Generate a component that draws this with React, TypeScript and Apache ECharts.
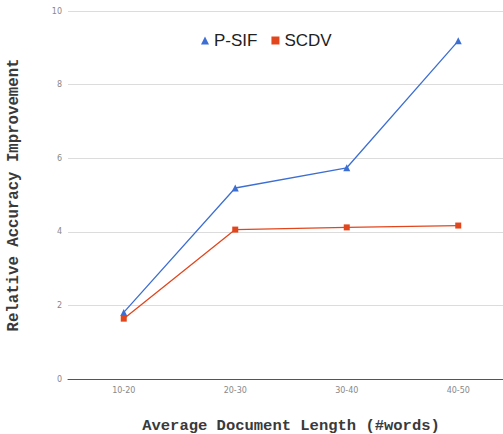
import React, { useEffect, useRef } from "react";
import * as echarts from "echarts";

const categories = ["10-20", "20-30", "30-40", "40-50"];
const psif = [1.81, 5.19, 5.74, 9.19];
const scdv = [1.64, 4.06, 4.12, 4.17];
const seriesNames = ["P-SIF", "SCDV"];

export default function App() {
  const ref = useRef<HTMLDivElement>(null);
  useEffect(() => {
    if (!ref.current) return;
    const chart = echarts.init(ref.current, null, { renderer: "svg" });
    chart.setOption({
      animation: false,
      backgroundColor: "#fff",
      grid: { left: 68, right: -11, top: 11, bottom: 55, containLabel: false, outerBoundsMode: "none" },
      legend: {
        top: 27,
        left: 196,
        itemWidth: 8,
        itemHeight: 8,
        itemGap: 14,
        textStyle: { fontSize: 17, fontFamily: "Liberation Sans, Arial, sans-serif", color: "#222" },
        data: [
          { name: seriesNames[0], icon: "triangle" },
          { name: seriesNames[1], icon: "rect" },
        ],
      },
      xAxis: {
        type: "category",
        data: categories,
        boundaryGap: true,
        axisLine: { lineStyle: { color: "#555", width: 1 } },
        axisTick: { show: false },
        axisLabel: { fontSize: 8, color: "#888", margin: 7, fontFamily: "DejaVu Sans, sans-serif" },
        name: "Average Document Length (#words)",
        nameLocation: "middle",
        nameGap: 39,
        nameTextStyle: { fontSize: 15.5, fontWeight: "bold", fontFamily: "Liberation Mono, Courier New, monospace", color: "#3a3a3a" },
      },
      yAxis: {
        type: "value",
        min: 0,
        max: 10,
        interval: 2,
        axisLine: { show: false },
        axisTick: { show: false },
        splitLine: { lineStyle: { color: "#dcdcdc", width: 1 } },
        axisLabel: { fontSize: 8, color: "#888", margin: 6, fontFamily: "DejaVu Sans, sans-serif" },
        name: "Relative Accuracy Improvement",
        nameLocation: "middle",
        nameGap: 46,
        nameTextStyle: { fontSize: 15.7, fontWeight: "bold", fontFamily: "Liberation Mono, Courier New, monospace", color: "#3a3a3a" },
      },
      series: [
        {
          name: seriesNames[0],
          type: "line",
          data: psif,
          symbol: "triangle",
          symbolSize: 7,
          color: "#3d6fd3",
          lineStyle: { width: 1.3, color: "#3d6fd3" },
          itemStyle: { color: "#3d6fd3" },
        },
        {
          name: seriesNames[1],
          type: "line",
          data: scdv,
          symbol: "rect",
          symbolSize: 6,
          color: "#e2461c",
          lineStyle: { width: 1.3, color: "#e2461c" },
          itemStyle: { color: "#e2461c" },
        },
      ],
    });
    return () => chart.dispose();
  }, []);
  return <div ref={ref} style={{ width: 503, height: 434, position: "absolute", left: 0, top: 0 }} />;
}
